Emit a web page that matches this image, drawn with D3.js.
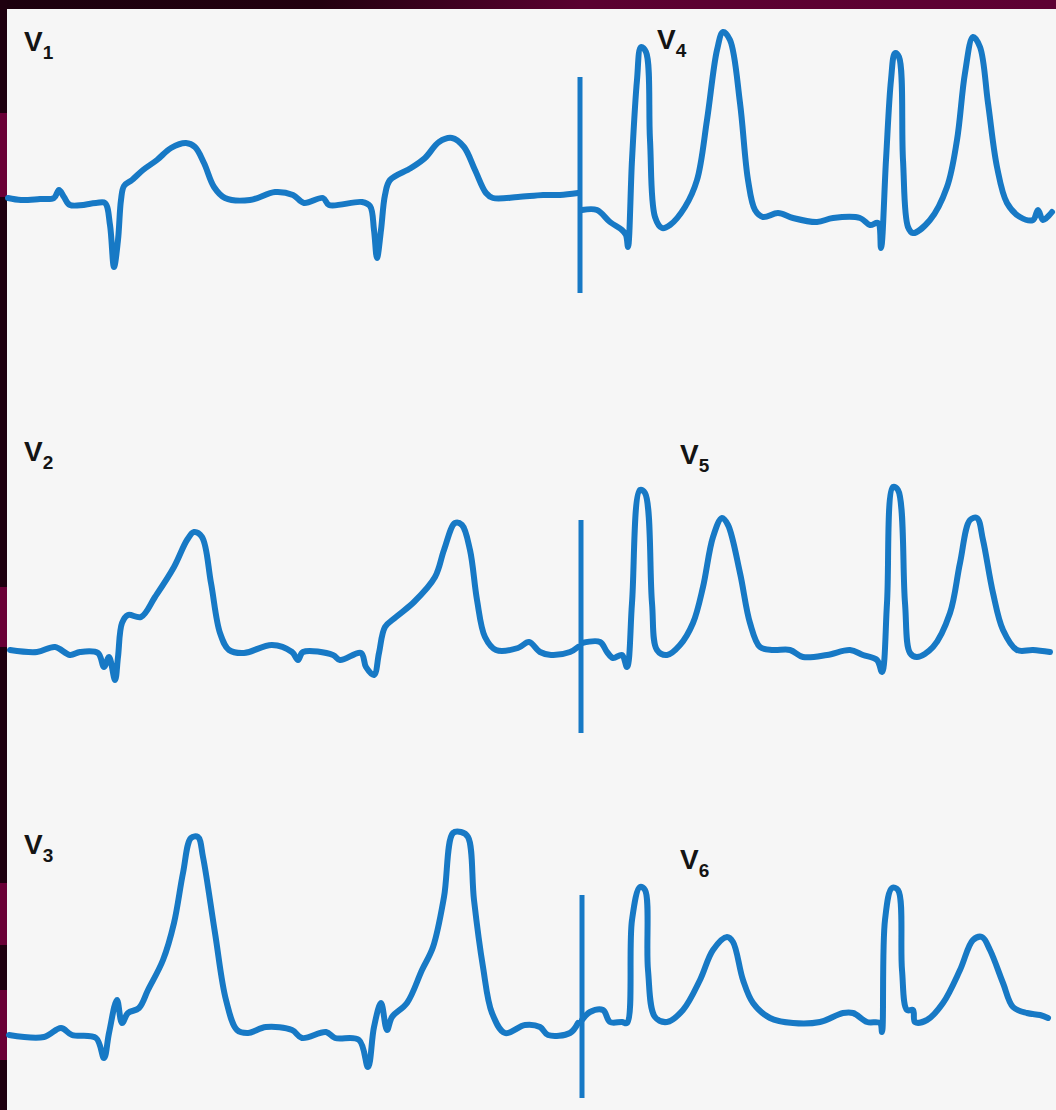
<!DOCTYPE html>
<html>
<head>
<meta charset="utf-8">
<script src="https://cdn.jsdelivr.net/npm/d3@7"></script>
<style>
  html, body { margin: 0; padding: 0; background: #f6f6f6; }
  svg { display: block; }
</style>
</head>
<body>
<svg id="chart" width="1056" height="1110"></svg>
<script>
// ---- Data: [sample, amplitude] (amplitude relative to the row baseline) ----
const leadNames = ["V1", "V2", "V3", "V4", "V5", "V6"];

const v1 = [[8,2],[21,0],[40,1],[54,2],[59,10],[64,3],[70,-5],[96,-3],[105,-3],[110,-25],[114,-67],[118,-40],[121,0],[124,14],[132,20],[143,30],[157,40],[171,52],[186,57],[195,53],[204,37],[214,13],[225,2],[250,0],[275,8],[293,5],[304,-3],[323,2],[329,-5],[362,-2],[370,-6],[374,-30],[377,-58],[381,-30],[385,5],[390,20],[411,32],[425,42],[439,58],[452,62],[464,53],[475,30],[486,7],[493,2],[518,3],[543,5],[560,5],[578,7]];

const v4 = [[582,-10],[597,-10],[610,-22],[622,-30],[626,-35],[628,-47],[632,40],[637,120],[641,153],[646,148],[650,60],[655,-17],[662,-28],[670,-25],[685,-7],[697,20],[707,80],[717,150],[723,168],[730,160],[740,97],[748,20],[755,-10],[763,-17],[778,-13],[793,-18],[817,-22],[833,-18],[860,-18],[870,-25],[878,-23],[881,-48],[886,40],[891,120],[895,147],[899,143],[903,40],[908,-27],[913,-33],[930,-20],[947,13],[957,60],[965,127],[973,163],[980,153],[988,97],[997,33],[1007,-3],[1020,-17],[1033,-20],[1038,-10],[1043,-20],[1052,-12]];

const v2 = [[10,0],[37,-2],[55,3],[70,-5],[80,-2],[98,-3],[104,-17],[109,-7],[115,-30],[118,-7],[122,27],[128,35],[141,33],[155,53],[174,83],[187,110],[194,118],[202,113],[211,67],[220,17],[229,0],[244,-3],[272,5],[292,-2],[298,-10],[303,-2],[333,-5],[340,-10],[361,-3],[366,-17],[374,-25],[379,-3],[385,23],[396,33],[414,48],[435,73],[444,100],[455,127],[462,125],[470,100],[477,50],[485,13],[496,0],[518,2],[529,8],[540,-2],[551,-5],[570,-2],[578,3]];

const v5 = [[582,7],[600,8],[607,-2],[613,-8],[622,-5],[627,-17],[632,47],[640,160],[645,157],[652,47],[657,0],[667,-5],[680,5],[693,27],[703,63],[713,113],[722,132],[728,125],[740,77],[750,27],[760,3],[773,0],[790,0],[803,-7],[827,-5],[850,0],[863,-5],[877,-10],[882,-22],[887,47],[893,163],[898,160],[905,47],[910,-3],[917,-7],[933,3],[950,37],[960,87],[970,130],[977,132],[983,110],[993,57],[1003,20],[1017,0],[1033,0],[1050,-2]];

const v3 = [[9,-5],[44,-7],[61,2],[72,-5],[96,-8],[104,-28],[109,-3],[117,30],[122,7],[128,17],[139,22],[148,40],[163,70],[174,107],[183,157],[191,192],[198,193],[203,173],[215,97],[226,30],[237,0],[248,-3],[266,3],[292,0],[302,-8],[326,-2],[335,-8],[359,-10],[368,-37],[374,3],[381,27],[387,0],[392,13],[407,27],[422,60],[433,83],[444,133],[453,197],[461,198],[468,193],[474,130],[483,63],[492,17],[505,-3],[525,5],[540,3],[548,-5],[570,-3],[578,7]];

const v6 = [[582,10],[590,18],[603,20],[610,8],[622,8],[627,7],[632,110],[640,143],[645,140],[648,60],[655,13],[667,8],[683,20],[700,50],[713,80],[727,93],[733,88],[743,50],[753,27],[770,12],[793,7],[820,8],[843,17],[853,17],[867,8],[880,7],[882,-2],[885,110],[892,142],[898,140],[902,60],[907,20],[913,20],[915,8],[927,10],[943,27],[960,60],[973,90],[982,93],[990,80],[1003,47],[1013,23],[1027,17],[1040,15],[1048,12]];

// lead-switch marker (sample position, amplitude top, amplitude bottom) per row
const markerSample = [580, 581, 582];
const markerTop = [123, 130, 135];
const markerBottom = [-93, -83, -68];

// ---- Layout ----
const W = 1056, H = 1110;
const rowBase = [200, 650, 1030];
const leadSeries = [v1, v2, v3, v4, v5, v6];
const leadRow = [0, 1, 2, 0, 1, 2];
const labelPos = [[24, 51], [24, 461], [24, 854], [657, 49], [680, 464], [680, 869]];
const traceColor = "#1779c5";

const svg = d3.select("#chart");

// background + frame
const defs = svg.append("defs");
const grad = defs.append("linearGradient").attr("id", "topg").attr("x1", 0).attr("x2", 1).attr("y1", 0).attr("y2", 0);
grad.append("stop").attr("offset", "0%").attr("stop-color", "#1c000e");
grad.append("stop").attr("offset", "30%").attr("stop-color", "#22000f");
grad.append("stop").attr("offset", "55%").attr("stop-color", "#5a0030");
grad.append("stop").attr("offset", "100%").attr("stop-color", "#5e0033");

svg.append("rect").attr("width", W).attr("height", H).attr("fill", "#f6f6f6");
svg.append("rect").attr("x", 0).attr("y", 0).attr("width", W).attr("height", 9).attr("fill", "url(#topg)");
svg.append("rect").attr("x", 0).attr("y", 0).attr("width", 7).attr("height", H).attr("fill", "#1e000f");
const stripes = [[113, 197], [587, 647], [883, 945], [990, 1060]];
svg.selectAll("rect.stripe").data(stripes).join("rect")
  .attr("class", "stripe").attr("x", 0).attr("width", 7)
  .attr("y", d => d[0]).attr("height", d => d[1] - d[0]).attr("fill", "#6a0036");

// scales
const x = d3.scaleLinear().domain([0, W]).range([0, W]);
const yScales = rowBase.map(b => d3.scaleLinear().domain([0, 100]).range([b, b - 100]));

const line = d3.line().curve(d3.curveCatmullRom.alpha(0.5));

leadSeries.forEach((s, i) => {
  const y = yScales[leadRow[i]];
  svg.append("path")
    .attr("d", line.x(d => x(d[0])).y(d => y(d[1]))(s))
    .attr("fill", "none")
    .attr("stroke", traceColor)
    .attr("stroke-width", 6)
    .attr("stroke-linejoin", "round")
    .attr("stroke-linecap", "round");
});

markerSample.forEach((m, r) => {
  const y = yScales[r];
  svg.append("line")
    .attr("x1", x(m)).attr("x2", x(m))
    .attr("y1", y(markerTop[r])).attr("y2", y(markerBottom[r]))
    .attr("stroke", traceColor).attr("stroke-width", 5);
});

// labels
leadNames.forEach((n, i) => {
  const t = svg.append("text")
    .attr("x", labelPos[i][0]).attr("y", labelPos[i][1])
    .attr("font-family", "'Liberation Sans', Arial, sans-serif")
    .attr("font-weight", "bold")
    .attr("font-size", 28)
    .attr("fill", "#141414");
  t.append("tspan").text(n[0]);
  t.append("tspan").attr("dy", 8).attr("dx", 0).attr("font-size", 19).text(n.slice(1));
});
</script>
</body>
</html>
